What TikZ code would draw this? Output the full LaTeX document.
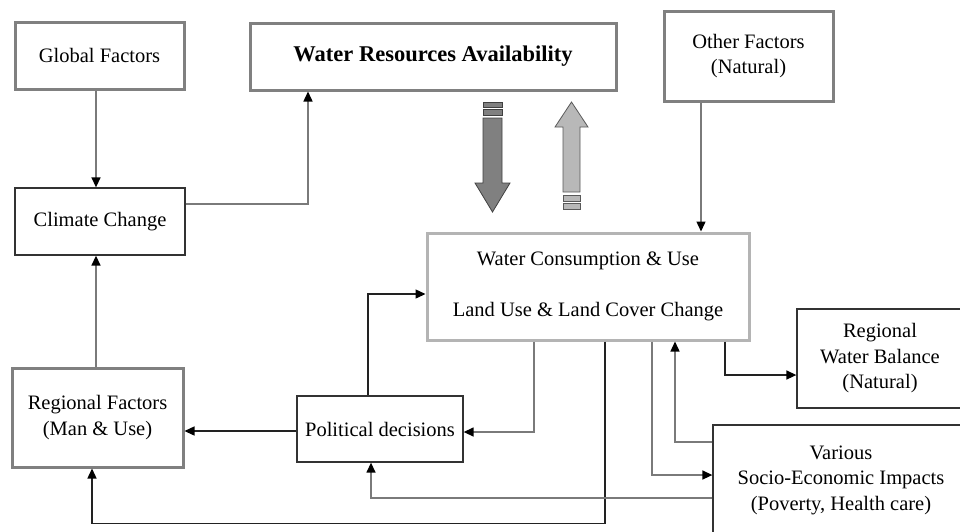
\documentclass[tikz,border=0pt]{standalone}
\usepackage{fontspec}
\setmainfont{Liberation Serif}
\usetikzlibrary{arrows.meta}
\definecolor{boxgray}{HTML}{808080}
\definecolor{boxlight}{HTML}{B4B4B4}
\definecolor{boxdark}{HTML}{333333}
\definecolor{lngray}{HTML}{7A7A7A}
\definecolor{lndark}{HTML}{222222}
\definecolor{arrdark}{HTML}{808080}
\definecolor{arrlight}{HTML}{B8B8B8}
\begin{document}
\begin{tikzpicture}[x=1pt,y=-1pt,
  every node/.style={font=\fontsize{20.5}{25.5}\selectfont, align=center, inner sep=0pt},
  thickbox/.style={draw=boxgray, line width=3pt, fill=white},
  thinbox/.style={draw=boxdark, line width=1.3pt, fill=white},
  lightbox/.style={draw=boxlight, line width=3pt, fill=white},
  conn/.style={line width=1.4pt, -{Triangle[length=10pt,width=9pt,color=black]}},
  gline/.style={conn, draw=lngray},
  dline/.style={conn, draw=lndark},
  blockdark/.style={fill=arrdark, draw=black!75, line width=0.8pt},
  blocklight/.style={fill=arrlight, draw=black!65, line width=0.8pt}
]
\useasboundingbox (0,0) rectangle (960,531);
\clip (0,0) rectangle (960,531);
\fill[white] (0,0) rectangle (960,531);

% nodes
\node[thickbox, minimum width=169pt, minimum height=67pt] (gf) at (99.5,55.5) {Global Factors};
\node[thickbox, minimum width=366pt, minimum height=67pt, font=\fontsize{22.5}{26}\selectfont\bfseries] (wra) at (433,56.5) {Water Resources Availability};
\node[thickbox, minimum width=169pt, minimum height=90pt] (of) at (748.5,56) {Other Factors\\(Natural)};
\node[thinbox, minimum width=170pt, minimum height=67pt] (cc) at (100,221.5) {Climate Change};
\node[lightbox, minimum width=322pt, minimum height=107pt] (wc) at (588,286.5) {Water Consumption \& Use\\[25pt]Land Use \& Land Cover Change};
\node[thinbox, minimum width=166pt, minimum height=99pt] (rwb) at (880,358.5) {Regional\\Water Balance\\(Natural)};
\node[thickbox, minimum width=171pt, minimum height=99pt] (rf) at (97.5,417.5) {Regional Factors\\(Man \& Use)};
\node[thinbox, minimum width=166pt, minimum height=66pt] (pd) at (380,429) {Political decisions};
\node[thinbox, minimum width=256pt, minimum height=110pt] (vs) at (841,480) {Various\\Socio-Economic Impacts\\(Poverty, Health care)};

% connectors
\draw[gline] (gf.south -| 96,0) -- (cc.north -| 96,0);
\draw[gline] ([yshift=17.5pt]cc.east) -| ([xshift=-125pt]wra.south);
\draw[gline] (rf.north -| 96,0) -- (cc.south -| 96,0);
\draw[gline] ([xshift=-47.5pt]of.south) -- ([xshift=-47.5pt]of.south |- wc.north);
\draw[dline] ([xshift=-12pt]pd.north) |- ([yshift=-7.5pt]wc.west);
\draw[dline] ([yshift=-2pt]pd.west) -- ([yshift=-2pt]pd.west -| rf.east);
\draw[gline] ([xshift=-54pt]wc.south) |- ([yshift=-3pt]pd.east);
\draw[dline] ([xshift=17pt]wc.south) -- ++(0,182) -| ([xshift=-5.5pt]rf.south);
\draw[gline] ([xshift=64pt]wc.south) |- ([yshift=5pt]vs.west);
\draw[gline] ([yshift=38pt]vs.west) -| ([xshift=87pt]wc.south);
\draw[dline] ([xshift=137pt]wc.south) |- ([yshift=-16.5pt]rwb.west);
\draw[gline] ([yshift=-18pt]vs.west) -| ([xshift=-9pt]pd.south);

% block arrows
\draw[blockdark] (483,102) rectangle (502,107);
\draw[blockdark] (483,109) rectangle (502,115);
\draw[blockdark] (483,118) -- (502,118) -- (502,183) -- (510,183) -- (492.5,212) -- (475,183) -- (483,183) -- cycle;
\draw[blocklight] (571.5,102) -- (588,127) -- (580,127) -- (580,192) -- (563,192) -- (563,127) -- (555,127) -- cycle;
\draw[blocklight] (563,195) rectangle (580,201);
\draw[blocklight] (563,203) rectangle (580,209);
\end{tikzpicture}
\end{document}
